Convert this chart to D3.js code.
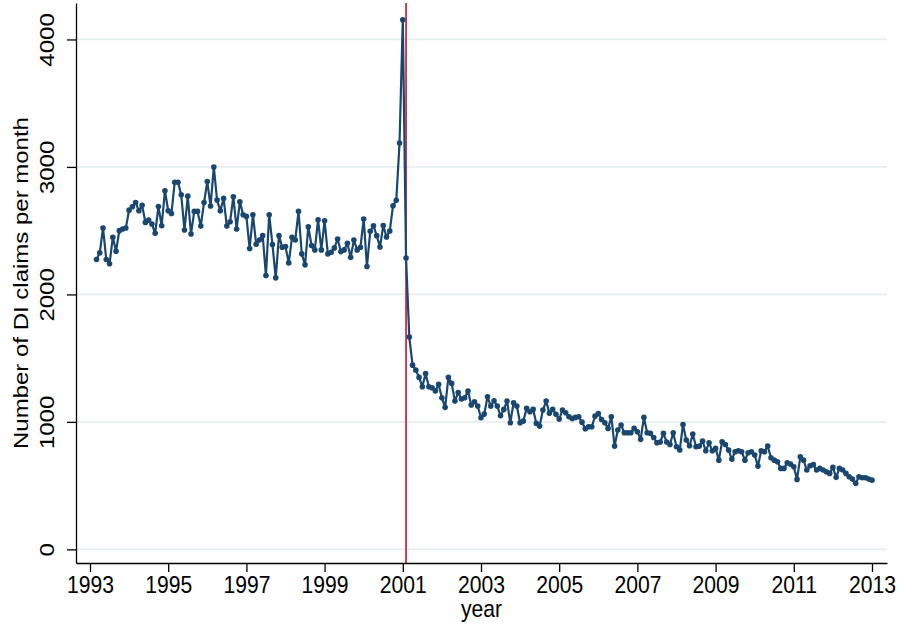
<!DOCTYPE html>
<html>
<head>
<meta charset="utf-8">
<script src="https://cdn.jsdelivr.net/npm/d3@7"></script>
<style>
  body { margin: 0; background: #fff; }
  svg text { font-family: Arial, "Liberation Sans", sans-serif; fill: #000; }
</style>
</head>
<body>
<div id="chart"></div>
<script>
// monthly series, first value is 1993m3
const startYear = 1993;
const startMonth = 3;
const claims = [
  2274, 2326, 2521, 2274, 2240, 2448, 2339, 2500, 2513, 2521,             // 1993
  2661, 2688, 2721, 2656, 2700, 2565, 2583, 2552, 2479, 2690, 2539, 2813, // 1994
  2656, 2635, 2880, 2880, 2781, 2505, 2771, 2474, 2651, 2651, 2536, 2721, // 1995
  2885, 2693, 3000, 2740, 2656, 2753, 2536, 2570, 2766, 2513, 2727, 2625, // 1996
  2612, 2360, 2625, 2393, 2427, 2461, 2148, 2625, 2391, 2130, 2461, 2370, // 1997
  2375, 2247, 2448, 2427, 2651, 2318, 2232, 2531, 2383, 2349, 2586, 2349, // 1998
  2578, 2318, 2331, 2365, 2435, 2336, 2349, 2401, 2292, 2427, 2349, 2370, // 1999
  2591, 2219, 2495, 2539, 2461, 2372, 2540, 2450, 2497, 2696, 2738, 3188, // 2000
  4154, 2285, 1665, 1445, 1406, 1349, 1276, 1380, 1276, 1268, 1242, 1294, // 2001
  1189, 1114, 1349, 1302, 1163, 1231, 1179, 1189, 1242, 1132, 1158, 1124, // 2002
  1032, 1061, 1197, 1124, 1166, 1124, 1048, 1098, 1163, 993, 1150, 1124,  // 2003
  993, 1006, 1106, 1079, 1098, 988, 967, 1093, 1163, 1067, 1098, 1059,    // 2004
  1022, 1093, 1072, 1040, 1027, 1035, 1040, 998, 946, 962, 962, 1045,     // 2005
  1066, 1019, 993, 949, 1040, 810, 936, 975, 915, 915, 915, 949,          // 2006
  923, 863, 1035, 915, 910, 878, 836, 842, 910, 842, 823, 915,            // 2007
  805, 779, 980, 857, 813, 904, 805, 810, 849, 773, 836, 773,             // 2008
  792, 700, 844, 823, 779, 708, 766, 773, 766, 700, 758, 766,             // 2009
  740, 653, 773, 766, 810, 719, 700, 687, 635, 635, 679, 669,             // 2010
  648, 549, 726, 700, 622, 656, 665, 622, 635, 622, 609, 596,             // 2011
  643, 565, 635, 622, 596, 570, 551, 518, 570, 562, 562, 551,             // 2012
  543                                                                     // 2013
];
const xTicks = [1993, 1995, 1997, 1999, 2001, 2003, 2005, 2007, 2009, 2011, 2013];
const yTicks = [0, 1000, 2000, 3000, 4000];
const breakDate = 2001 + 1 / 12; // 2001m2
const xTitle = "year";
const yTitle = "Number of DI claims per month";

const width = 903, height = 629;
const navy = "#1a476f";
const fontSize = "24px";
const squeeze = "scale(0.88,1)"; // stata text looks narrow

const svg = d3.select("#chart").append("svg")
  .attr("width", width)
  .attr("height", height);

const x = d3.scaleLinear().domain([1992.642, 2013.384]).range([76, 887]);
const y = d3.scaleLinear().domain([-107, 4286]).range([563, 3]);

const data = claims.map((v, i) => ({ t: startYear + (startMonth - 1 + i) / 12, v: v }));

// grid
svg.append("g")
  .selectAll("line")
  .data(yTicks)
  .enter()
  .append("line")
  .attr("x1", x.range()[0])
  .attr("x2", x.range()[1])
  .attr("y1", d => y(d))
  .attr("y2", d => y(d))
  .attr("stroke", "#e6eef1")
  .attr("stroke-width", 1.8);

// axes
const gx = svg.append("g")
  .attr("transform", `translate(0,${y.range()[0]})`)
  .call(d3.axisBottom(x).tickValues(xTicks).tickFormat(d3.format("d")).tickSize(9).tickSizeOuter(0));

const gy = svg.append("g")
  .attr("transform", `translate(${x.range()[0]},0)`)
  .call(d3.axisLeft(y).tickValues(yTicks).tickFormat(d3.format("d")).tickSize(9).tickSizeOuter(0));

[gx, gy].forEach(g => {
  g.select(".domain").attr("stroke-width", 1.3);
  g.selectAll(".tick line").attr("stroke-width", 1.3);
});

gx.selectAll(".tick text")
  .attr("y", null)
  .attr("dy", null)
  .attr("transform", `translate(0,30) ${squeeze}`)
  .style("font-size", fontSize);

gy.selectAll(".tick text")
  .attr("x", null)
  .attr("dy", null)
  .attr("text-anchor", "middle")
  .attr("transform", `translate(-22,0) ${squeeze} rotate(-90)`)
  .style("font-size", fontSize);

// titles
svg.append("text")
  .attr("text-anchor", "middle")
  .attr("transform", `translate(${(x.range()[0] + x.range()[1]) / 2},617) ${squeeze}`)
  .style("font-size", fontSize)
  .text(xTitle);

svg.append("text")
  .attr("text-anchor", "middle")
  .attr("transform", `translate(28,${(y.range()[0] + y.range()[1]) / 2}) ${squeeze} rotate(-90)`)
  .style("font-size", fontSize)
  .text(yTitle);

// break line
svg.append("line")
  .attr("x1", x(breakDate))
  .attr("x2", x(breakDate))
  .attr("y1", y.range()[1])
  .attr("y2", y.range()[0])
  .attr("stroke", "#c8102e")
  .attr("stroke-width", 1.6);

// series
const line = d3.line()
  .x(d => x(d.t))
  .y(d => y(d.v));

svg.append("path")
  .datum(data)
  .attr("d", line)
  .attr("fill", "none")
  .attr("stroke", navy)
  .attr("stroke-width", 2.2)
  .attr("stroke-linejoin", "round");

svg.append("g")
  .selectAll("circle")
  .data(data)
  .enter()
  .append("circle")
  .attr("cx", d => x(d.t))
  .attr("cy", d => y(d.v))
  .attr("r", 2.8)
  .attr("fill", navy);
</script>
</body>
</html>
